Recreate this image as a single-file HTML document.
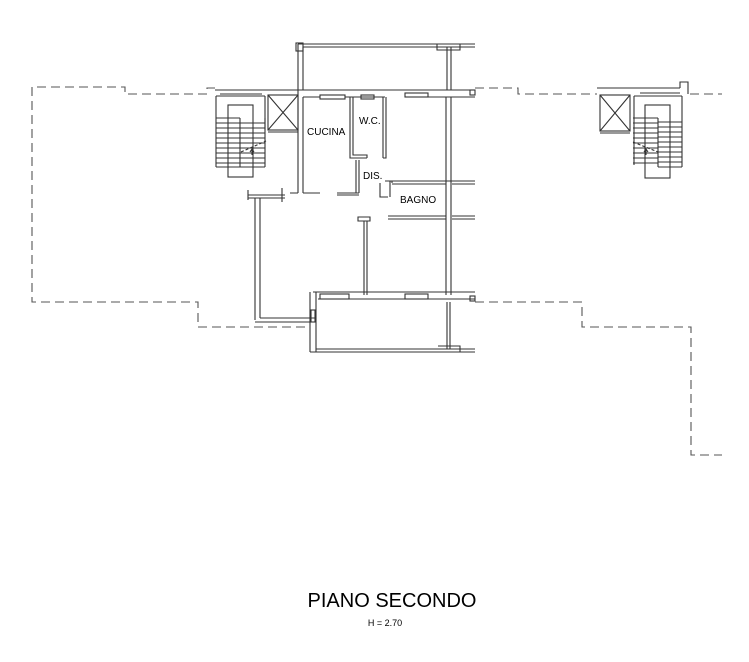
<!DOCTYPE html>
<html><head><meta charset="utf-8"><style>
html,body{margin:0;padding:0;background:#fff;}
svg{display:block;}
text{font-family:"Liberation Sans",sans-serif;fill:#000;}
</style></head><body>
<svg width="749" height="662" viewBox="0 0 749 662" xmlns="http://www.w3.org/2000/svg">
<g fill="none" stroke="#333" stroke-width="1.1">
<g stroke-dasharray="9,5" stroke="#555">
<polyline points="215,88 207,88 207,94 125,94 125,87 32,87 32,302 198,302 198,327 310,327"/>
<polyline points="475,88 518,88 518,94 597,94"/>
<polyline points="690,94 722,94"/>
<polyline points="475,302 582,302 582,327 691,327 691,455 722,455"/>
</g>
<path d="M298,44 H475 M303,47 H475 M298,44 V90 M303,47 V90 M447,47 V90 M451,47 V90 M437,44 V50 H460 V44"/>
<rect x="296" y="43" width="7" height="8"/>
<path d="M215,90 H475 M303,97 H320 M345,97 H385 M405,97 H475 M220,94 H262"/>
<rect x="320" y="95" width="25" height="4"/><rect x="361" y="95" width="13" height="4"/><rect x="405" y="93" width="23" height="4"/><rect x="470" y="90" width="5" height="5"/>
<path d="M216,96 V167 M265,96 V130"/>
<rect x="228" y="105" width="25" height="72"/>
<path d="M216,96 H265"/>
<g>
<path d="M216,118 H240 M216,123 H240 M216,128 H240 M216,133 H240 M216,138 H240 M216,143 H240 M216,148 H240 M216,153 H240 M216,158 H240 M216,163 H240 M216,167 H240 M240,118 V167"/>
<path d="M240,123 H265 M240,128 H265 M240,133 H265 M240,138 H265 M240,143 H265 M240,148 H265 M240,153 H265 M240,158 H265 M240,163 H265 M240,167 H265 M265,118 V167"/>
<path d="M241,152 L266,141" stroke-dasharray="3,2"/><path d="M252,155 L252,149 M250,152 L252,149 L254,152"/>
</g>
<rect x="268" y="95" width="30" height="35"/><path d="M268,95 L298,130 M298,95 L268,130 M268,132 H298"/>
<path d="M298,90 V193 M303,97 V193 M303,193 H320 M298,193 H290 M285,195 H248 M285,198 H248 M248,190 V200 M282,188 V202 M255,198 V320 M260,198 V318 M260,318 H315 M255,322 H315"/>
<path d="M350,97 V158 H367 M353,97 V155 H367 V158 M356,160 V193 M359,160 V193 M337,193 H359 M337,195 H359"/>
<path d="M383,97 V158 M386,97 V158 H383"/>
<path d="M380,183 V197 H388 M385,181 H392 V183 M390,181 H475 M392,184 H446 M390,181 V197 M452,184 H475"/>
<path d="M358,217 H370 V221 H358 Z M364,221 V295 M367,221 V295"/>
<path d="M388,216 H446 M388,219 H446 M452,216 H475 M452,219 H475"/>
<path d="M446,97 V295 M451,97 V295"/>
<path d="M313,292 H475 M318,299 H475 M310,292 V352 M316,292 V352 M310,352 H475 M316,349 H475 M447,302 V349 M450,302 V349 M438,346 H460 V352"/>
<rect x="320" y="294" width="29" height="5"/><rect x="405" y="294" width="23" height="5"/><rect x="470" y="296" width="5" height="5"/><rect x="311" y="310" width="4" height="12"/>
<rect x="600" y="95" width="30" height="36"/><path d="M600,95 L630,131 M630,95 L600,131 M600,133 H630"/>
<path d="M597,88 H680 M640,93 H680 M634,96 H682 M634,96 V165 M682,96 V167 M680,88 V82 H688 V94"/>
<rect x="645" y="105" width="25" height="73"/>
<path d="M633,118 H658 M633,123 H658 M633,128 H658 M633,133 H658 M633,138 H658 M633,143 H658 M633,148 H658 M633,153 H658 M633,158 H658 M633,163 H658 M658,118 V167"/>
<path d="M658,122 H682 M658,127 H682 M658,132 H682 M658,137 H682 M658,142 H682 M658,147 H682 M658,152 H682 M658,157 H682 M658,162 H682 M658,167 H682"/>
<path d="M633,142 L658,152" stroke-dasharray="3,2"/><path d="M646,155 V149 M644,152 L646,149 L648,152"/>
</g>
<text x="307" y="135" font-size="10">CUCINA</text>
<text x="359" y="124" font-size="10">W.C.</text>
<text x="363" y="179" font-size="10">DIS.</text>
<text x="400" y="203" font-size="10">BAGNO</text>
<text x="392" y="607" font-size="20" text-anchor="middle">PIANO SECONDO</text>
<text x="385" y="626" font-size="9" text-anchor="middle">H = 2.70</text>
</svg>
</body></html>
